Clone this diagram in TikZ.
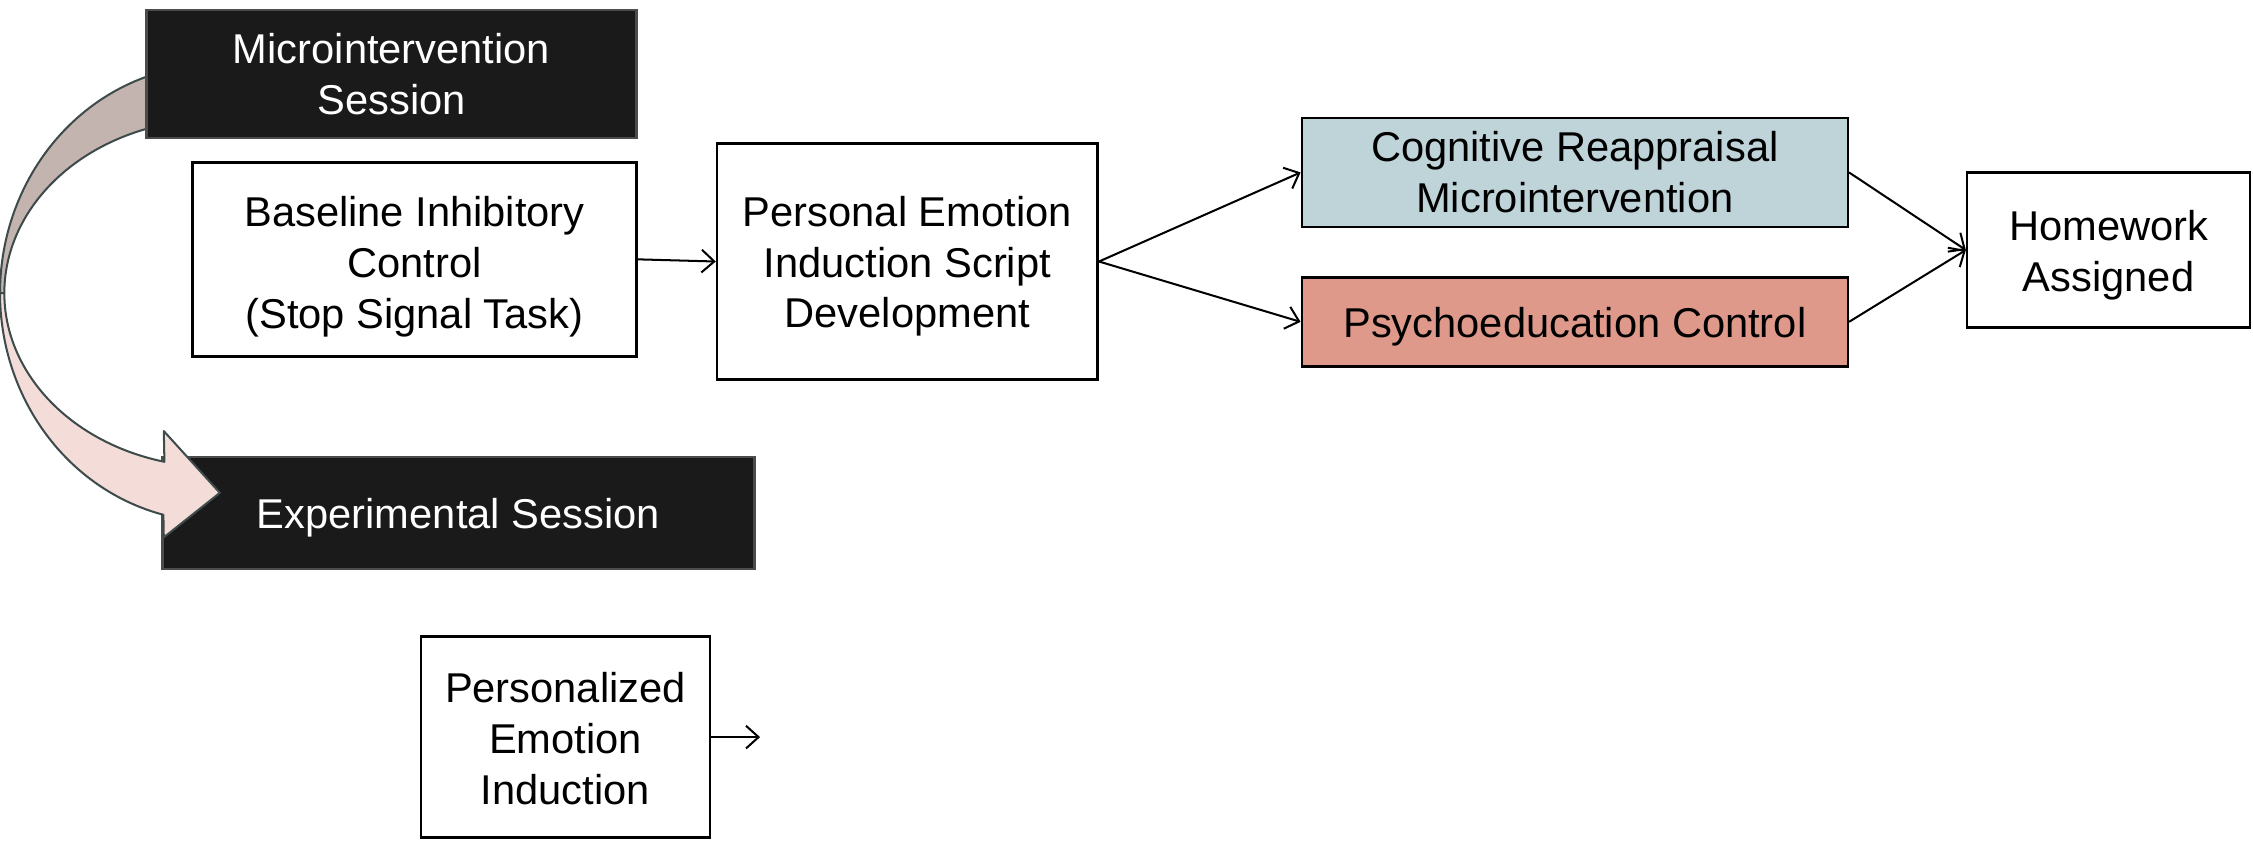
\documentclass[tikz,border=0pt]{standalone}
\usepackage{fontspec}
\setmainfont{Liberation Sans}
\usetikzlibrary{arrows.meta}
\definecolor{boxdark}{HTML}{1A1A1A}
\definecolor{cogfill}{HTML}{BED4D9}
\definecolor{psyfill}{HTML}{DE998B}
\definecolor{backfill}{HTML}{C4B4B0}
\definecolor{frontfill}{HTML}{F4DCD8}
\definecolor{ribbonline}{HTML}{3E4B4B}
% invisible strut of a given height that lowers a text block inside its box
\newcommand{\toplift}[1]{\rule{0pt}{#1}}
\begin{document}
\begin{tikzpicture}[x=0.02cm, y=-0.02cm,
  txt/.style={font=\fontsize{16.5}{20.2}\selectfont, align=center, inner sep=0pt},
  plainbox/.style={txt, draw=black, line width=1pt, fill=white},
  darkbox/.style={txt, draw=black!70, line width=1pt, fill=boxdark, text=white},
  ribbon/.style={draw=ribbonline, line width=0.8pt, line join=round},
  link/.style={-{Straight Barb[length=5pt,width=9pt]}, line width=0.8pt, black}
]
\useasboundingbox (0,0) rectangle (1568,587);

% second session
\node[darkbox, minimum width=8.24cm, minimum height=1.56cm] (exp) at (319,357) {\toplift{16pt}Experimental Session};

% curved ribbon arrow leading from the first session to the second
\path[ribbon, fill=backfill]
  plot[domain=254:180, samples=50] ({150+150*cos(\x)},{204+159*sin(\x)})
  -- plot[domain=180:254, samples=50] ({150+147*cos(\x)},{204+121*sin(\x)})
  -- cycle;
\path[ribbon, fill=frontfill]
  plot[domain=180:104, samples=50] ({150+150*cos(\x)},{204+159*sin(\x)})
  -- (114,374) -- (153,343) -- (114,300)
  -- plot[domain=104:180, samples=50] ({150+147*cos(\x)},{204+121*sin(\x)})
  -- cycle;

% first session
\node[darkbox, minimum width=6.82cm, minimum height=1.78cm] (micro) at (272.5,51.5) {Microintervention\\Session};

\node[plainbox, minimum width=6.18cm, minimum height=2.70cm] (base) at (288.5,180.5) {\toplift{18pt}Baseline Inhibitory\\Control\\(Stop Signal Task)};
\node[plainbox, minimum width=5.30cm, minimum height=3.28cm] (pers) at (631.5,182) {\toplift{15.7pt}Personal Emotion\\Induction Script\\Development};
\node[plainbox, fill=cogfill, minimum width=7.60cm, minimum height=1.52cm] (cog) at (1096,120) {Cognitive Reappraisal\\Microintervention};
\node[plainbox, fill=psyfill, minimum width=7.60cm, minimum height=1.24cm] (psy) at (1096,224) {\toplift{16pt}Psychoeducation Control};
\node[plainbox, minimum width=3.94cm, minimum height=2.16cm] (hw) at (1467.5,174) {\toplift{15.7pt}Homework\\Assigned};

\node[plainbox, minimum width=4.02cm, minimum height=2.80cm] (pei) at (393.5,513) {\toplift{13.4pt}Personalized\\Emotion\\Induction};
\coordinate (peiout) at (529,513);

\draw[link] (base.east) -- (pers.west);
\draw[link] (pers.east) -- (cog.west);
\draw[link] (pers.east) -- (psy.west);
\draw[link] (cog.east) -- (hw.west);
\draw[link] (psy.east) -- (hw.west);
\draw[link] (pei.east) -- (peiout);
\end{tikzpicture}
\end{document}
